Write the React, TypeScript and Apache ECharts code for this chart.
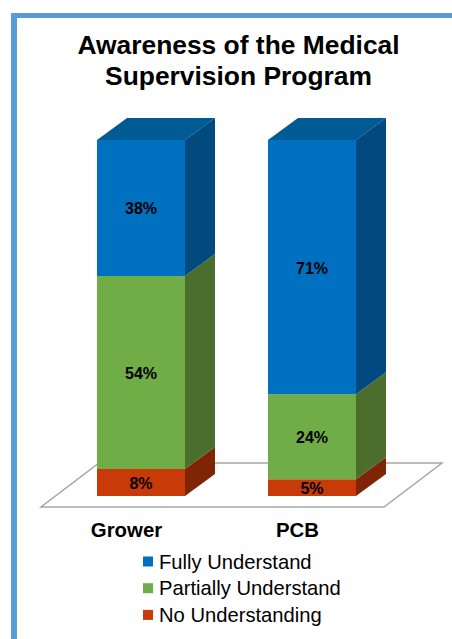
import React, { useEffect, useRef } from "react";
import * as echarts from "echarts";

const FONT = '"Liberation Sans", Arial, sans-serif';
const titleLines = ["Awareness of the Medical", "Supervision Program"];
const categories = ["Grower", "PCB"];
const noUnderstanding = [7.6, 4.7];
const partiallyUnderstand = [54.2, 23.9];
const fullyUnderstand = [38.2, 71.4];

const DX = 30;
const DY = -22;

function boxSeries(name: string, values: number[], bases: number[], front: string, side: string, top: string | null) {
  return {
    type: "custom",
    name,
    itemStyle: { color: front },
    encode: { x: 0, y: 2 },
    data: values.map((v, i) => [i, bases[i], bases[i] + v, v]),
    renderItem: (_p: any, api: any) => {
      const i = api.value(0);
      const lo = api.coord([i, api.value(1)]);
      const hi = api.coord([i, api.value(2)]);
      const w = 88;
      const x0 = lo[0] - w / 2;
      const x1 = x0 + w;
      const yb = lo[1];
      const yt = hi[1];
      const children: any[] = [
        { type: "polygon", shape: { points: [[x1, yb], [x1 + DX, yb + DY], [x1 + DX, yt + DY], [x1, yt]] }, style: { fill: side } },
        { type: "rect", shape: { x: x0, y: yt, width: w, height: yb - yt }, style: { fill: front } },
        {
          type: "text",
          x: x0 + w / 2,
          y: (yb + yt) / 2 + 1,
          style: {
            text: Math.round(api.value(3)) + "%",
            fill: "#000",
            font: `bold 16px ${FONT}`,
            align: "center",
            verticalAlign: "middle",
          },
        },
      ];
      if (top) {
        children.unshift({
          type: "polygon",
          shape: { points: [[x0, yt], [x0 + DX, yt + DY], [x1 + DX, yt + DY], [x1, yt]] },
          style: { fill: top },
        });
      }
      return { type: "group", children };
    },
  };
}

export default function App() {
  const ref = useRef<HTMLDivElement>(null);
  useEffect(() => {
    const chart = echarts.init(ref.current!, undefined, { renderer: "svg" });
    const base2 = noUnderstanding.map((v, i) => v + partiallyUnderstand[i]);
    chart.setOption({
      animation: false,
      backgroundColor: "#fff",
      title: {
        text: titleLines.join("\n"),
        left: 233.5,
        top: 24,
        textAlign: "center",
        textStyle: { fontFamily: FONT, fontWeight: "bold", fontSize: 26.4, lineHeight: 31, color: "#000" },
      },
      grid: { left: 55.5, width: 342, top: 140, height: 356 },
      xAxis: {
        type: "category",
        data: categories,
        axisLine: { show: false },
        axisTick: { show: false },
        axisLabel: { fontFamily: FONT, fontWeight: "bold", fontSize: 20.4, color: "#000", margin: 24, padding: [0, 29, 0, 0] },
      },
      yAxis: { type: "value", min: 0, max: 100, show: false },
      legend: {
        data: [
          { name: "Fully Understand", icon: "rect" },
          { name: "Partially Understand", icon: "rect" },
          { name: "No Understanding", icon: "rect" },
        ],
        orient: "vertical",
        left: 143,
        top: 550,
        itemWidth: 10,
        itemHeight: 10,
        itemGap: 3.7,
        padding: 0,
        textStyle: { fontFamily: FONT, fontSize: 20.2, color: "#000", lineHeight: 21, padding: [0, 0, 2, 1] },
      },
      graphic: [
        { type: "rect", silent: true, shape: { x: 11, y: 13, width: 441, height: 5 }, style: { fill: "#5B9BD5" } },
        { type: "rect", silent: true, shape: { x: 11, y: 13, width: 6, height: 626 }, style: { fill: "#5B9BD5" } },
        {
          type: "polygon",
          silent: true,
          shape: { points: [[41, 507], [384, 507], [442, 463], [99, 463]] },
          style: { fill: "#fff", stroke: "#A6A6A6", lineWidth: 1.5 },
        },
      ],
      series: [
        boxSeries("No Understanding", noUnderstanding, [0, 0], "#C83A08", "#7F2505", null),
        boxSeries("Partially Understand", partiallyUnderstand, noUnderstanding, "#70AD47", "#4B6E2C", null),
        boxSeries("Fully Understand", fullyUnderstand, base2, "#0070C0", "#004A80", "#005A94"),
      ],
    });
    return () => chart.dispose();
  }, []);
  return <div ref={ref} style={{ position: "fixed", left: 0, top: 0, width: 452, height: 639 }} />;
}
